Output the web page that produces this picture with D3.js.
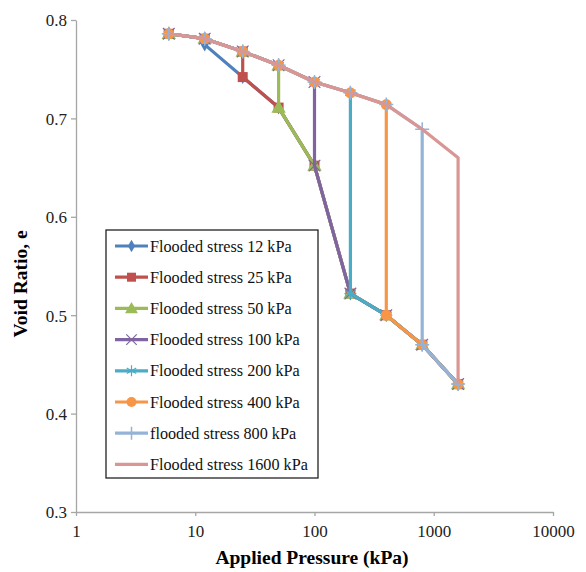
<!DOCTYPE html>
<html lang="en">
<head>
<meta charset="UTF-8">
<title>Void ratio</title>
<script src="https://d3js.org/d3.v7.min.js"></script>
<style>
  body { margin: 0; background: #fff; }
  text { font-family: "Liberation Serif", "Times New Roman", serif; }
</style>
</head>
<body>
<div id="content"></div>
<script>
// pressures (kPa) and void ratios
const dryPressure = [6, 12, 25, 50, 100, 200, 400, 800, 1600];
const dryVoid = [0.786, 0.781, 0.768, 0.754, 0.737, 0.726, 0.714, 0.689, 0.660];
const wetPressure = [12, 25, 50, 100, 200, 400, 800, 1600];
const wetVoid = [0.775, 0.742, 0.711, 0.652, 0.522, 0.500, 0.470, 0.430];
const floodStress = [12, 25, 50, 100, 200, 400, 800, 1600];
const seriesNames = ["Flooded stress 12 kPa", "Flooded stress 25 kPa", "Flooded stress 50 kPa",
  "Flooded stress 100 kPa", "Flooded stress 200 kPa", "Flooded stress 400 kPa",
  "flooded stress 800 kPa", "Flooded stress 1600 kPa"];
const colors = ["#4F81BD", "#C0504D", "#9BBB59", "#8064A2", "#4BACC6", "#F79646", "#95B3D7", "#D99694"];
const markers = ["diamond", "square", "triangle", "x", "star", "circle", "plus", "none"];
const xTicks = [1, 10, 100, 1000, 10000];
const yTicks = [0.3, 0.4, 0.5, 0.6, 0.7, 0.8];

// each series: dry loading up to flood stress, then drop to wet curve and continue
const series = floodStress.map((fs, i) => {
  const pts = [];
  dryPressure.forEach((p, j) => { if (p <= fs) pts.push([p, dryVoid[j]]); });
  wetPressure.forEach((p, j) => { if (p >= fs) pts.push([p, wetVoid[j]]); });
  return { name: seriesNames[i], color: colors[i], marker: markers[i], pts };
});

const W = 586, H = 572;
const svg = d3.select("#content").append("svg").attr("width", W).attr("height", H);

const x = d3.scaleLog().domain([1, 10000]).range([76, 553]);
const y = d3.scaleLinear().domain([0.3, 0.8]).range([512, 20]);

const xAxis = svg.append("g").attr("transform", "translate(0,512)")
  .call(d3.axisBottom(x).tickValues(xTicks).tickFormat(d3.format("d")).tickSizeInner(4).tickSizeOuter(0));
const yAxis = svg.append("g").attr("transform", "translate(76,0)")
  .call(d3.axisLeft(y).tickValues(yTicks).tickFormat(d3.format(".1f")).tickSizeInner(5).tickSizeOuter(0));
[xAxis, yAxis].forEach(a => {
  a.select(".domain").attr("stroke", "#a6a6a6").attr("stroke-width", 1.3);
  a.selectAll(".tick line").attr("stroke", "#a6a6a6").attr("stroke-width", 1.3);
  a.selectAll(".tick text").attr("fill", "#222").style("font-size", "17px")
    .style("font-family", "Liberation Serif, serif");
});
xAxis.selectAll(".tick text").attr("dy", "1.05em");
yAxis.selectAll(".tick text").attr("x", -9).attr("dy", "0.35em");

svg.append("text").attr("x", 312).attr("y", 564).attr("text-anchor", "middle")
  .style("font-size", "19.5px").style("font-weight", "bold").text("Applied  Pressure (kPa)");
svg.append("text").attr("transform", "translate(27,284) rotate(-90)").attr("text-anchor", "middle")
  .style("font-size", "19.5px").style("font-weight", "bold").text("Void Ratio, e");

const line = d3.line().x(d => x(d[0])).y(d => y(d[1]));

function drawMarker(g, type, color, cx, cy, s) {
  if (type === "diamond") {
    g.append("path").attr("d", d3.symbol(d3.symbolDiamond, s * s * 0.55)())
      .attr("transform", `translate(${cx},${cy})`).attr("fill", color);
  } else if (type === "square") {
    g.append("rect").attr("x", cx - s / 2).attr("y", cy - s / 2).attr("width", s).attr("height", s)
      .attr("fill", color);
  } else if (type === "triangle") {
    g.append("path").attr("d", d3.symbol(d3.symbolTriangle, s * s * 0.9)())
      .attr("transform", `translate(${cx},${cy + 1})`).attr("fill", color);
  } else if (type === "x") {
    g.append("path").attr("d", d3.symbol(d3.symbolTimes, s * s * 0.9)())
      .attr("transform", `translate(${cx},${cy})`).attr("fill", "none")
      .attr("stroke", color).attr("stroke-width", 1.2);
  } else if (type === "star") {
    const r = s / 2 + 1;
    const p = [0, 60, 120].map(a => {
      const t = a * Math.PI / 180;
      return `M${cx - r * Math.sin(t)},${cy - r * Math.cos(t)}L${cx + r * Math.sin(t)},${cy + r * Math.cos(t)}`;
    }).join("") + `M${cx - r},${cy}L${cx + r},${cy}`;
    g.append("path").attr("d", p).attr("stroke", color).attr("stroke-width", 1.2);
  } else if (type === "circle") {
    g.append("circle").attr("cx", cx).attr("cy", cy).attr("r", s / 2 + 0.5).attr("fill", color);
  } else if (type === "plus") {
    const r = s / 2 + 2;
    g.append("path").attr("d", `M${cx - r},${cy}L${cx + r},${cy}M${cx},${cy - r}L${cx},${cy + r}`)
      .attr("stroke", color).attr("stroke-width", 1.5);
  }
}

const plot = svg.append("g");
series.forEach(s => {
  const g = plot.append("g");
  g.append("path").datum(s.pts).attr("d", line).attr("fill", "none")
    .attr("stroke", s.color).attr("stroke-width", 3.2).attr("stroke-linejoin", "round");
  s.pts.forEach(d => drawMarker(g, s.marker, s.color, x(d[0]), y(d[1]), 10));
});

// legend
const lg = svg.append("g");
lg.append("rect").attr("x", 106).attr("y", 230).attr("width", 212).attr("height", 248)
  .attr("fill", "#fff").attr("stroke", "#222").attr("stroke-width", 1.3);
series.forEach((s, i) => {
  const ly = 246 + i * 31.2;
  const g = lg.append("g");
  g.append("line").attr("x1", 115).attr("x2", 148).attr("y1", ly).attr("y2", ly)
    .attr("stroke", s.color).attr("stroke-width", 3.2);
  drawMarker(g, s.marker, s.color, 131.5, ly, 9);
  g.append("text").attr("x", 150).attr("y", ly).attr("dy", "0.35em")
    .style("font-size", "16.2px").attr("fill", "#111").text(s.name);
});
</script>
</body>
</html>
